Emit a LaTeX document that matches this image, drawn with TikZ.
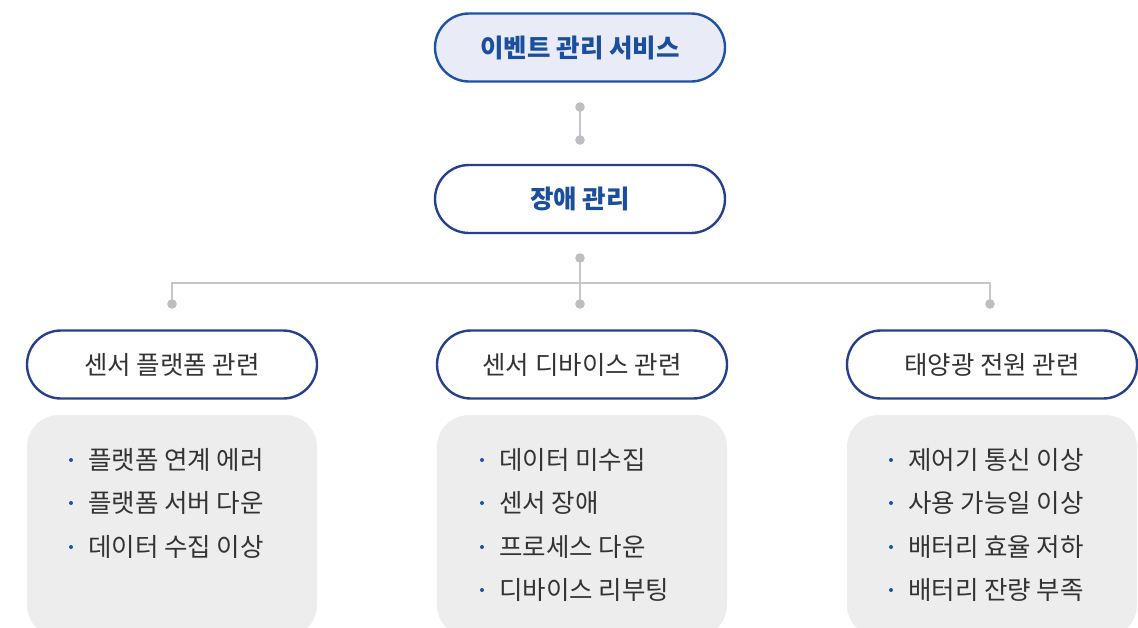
\documentclass[tikz,border=0pt]{standalone}
\usepackage{fontspec}
\setmainfont{Noto Sans CJK KR}
\definecolor{topfill}{HTML}{E9ECF6}
\definecolor{topblue}{HTML}{1D52A6}
\definecolor{navy}{HTML}{26408E}
\definecolor{textblue}{HTML}{1B4F9E}
\definecolor{darktext}{HTML}{333333}
\definecolor{boxgray}{HTML}{EDEDED}
\definecolor{linegray}{HTML}{C6C6C8}
\definecolor{dotgray}{HTML}{BDBEC2}
\definecolor{bulletblue}{HTML}{1D52A6}
\begin{document}
\begin{tikzpicture}[x=1pt,y=-1pt,
  pill/.style={draw=navy, line width=2.4pt, fill=white, rounded corners=34pt,
    minimum width=290pt, minimum height=68pt, inner sep=0pt},
  toptext/.style={text=textblue, font=\bfseries\fontsize{25.5}{30}\selectfont},
  subtext/.style={text=darktext, font=\fontsize{25.5}{30}\selectfont},
  graybox/.style={fill=boxgray, draw=none, rounded corners=32pt,
    minimum width=290pt, minimum height=222pt, inner sep=0pt},
  item/.style={anchor=west, text=darktext, font=\fontsize{25.5}{30}\selectfont, inner sep=0pt},
  conn/.style={draw=linegray, line width=1.3pt},
  gdot/.style={fill=dotgray, draw=none},
]
\useasboundingbox (0,0) rectangle (1138,627);
\clip (0,0) rectangle (1138,627);

% top level
\node[pill, draw=topblue, fill=topfill, toptext] (svc) at (580,47.5) {이벤트 관리 서비스};
\node[pill, toptext] (fault) at (580,199) {장애 관리};

% third level
\node[pill, subtext] (platform) at (172,364.5) {센서 플랫폼 관련};
\node[pill, subtext] (device) at (582,364.5) {센서 디바이스 관련};
\node[pill, subtext] (solar) at (992,364.5) {태양광 전원 관련};

% connectors
\coordinate (d1) at (580,107);
\coordinate (d2) at (580,140);
\coordinate (d3) at (580,258);
\coordinate (jm) at (580,283);
\coordinate (jl) at (172,283);
\coordinate (jr) at (990,283);
\coordinate (el) at (172,304);
\coordinate (em) at (580,304);
\coordinate (er) at (990,304);
\draw[conn] (d1) -- (d2);
\draw[conn] (d3) -- (jm);
\draw[conn] (el) -- (jl) -- (jr) -- (er);
\draw[conn] (jm) -- (em);
\foreach \p in {d1,d2,d3,el,em,er} \fill[gdot] (\p) circle (4.8pt);

% gray boxes
\node[graybox] (platformbox) at (172,526) {};
\node[graybox] (devicebox) at (582,526) {};
\node[graybox] (solarbox) at (992,526) {};

% items left
\node[item] (p1) at (88,460) {플랫폼 연계 에러};
\node[item] (p2) at (88,503) {플랫폼 서버 다운};
\node[item] (p3) at (88,547) {데이터 수집 이상};
% items middle
\node[item] (m1) at (499,460) {데이터 미수집};
\node[item] (m2) at (499,503) {센서 장애};
\node[item] (m3) at (499,547) {프로세스 다운};
\node[item] (m4) at (499,590) {디바이스 리부팅};
% items right
\node[item] (r1) at (908,460) {제어기 통신 이상};
\node[item] (r2) at (908,503) {사용 가능일 이상};
\node[item] (r3) at (908,547) {배터리 효율 저하};
\node[item] (r4) at (908,590) {배터리 잔량 부족};

\foreach \n in {p1,p2,p3,m1,m2,m3,m4,r1,r2,r3,r4}
  \fill[bulletblue] ([xshift=-17pt]\n.west) circle (2pt);
\end{tikzpicture}
\end{document}
